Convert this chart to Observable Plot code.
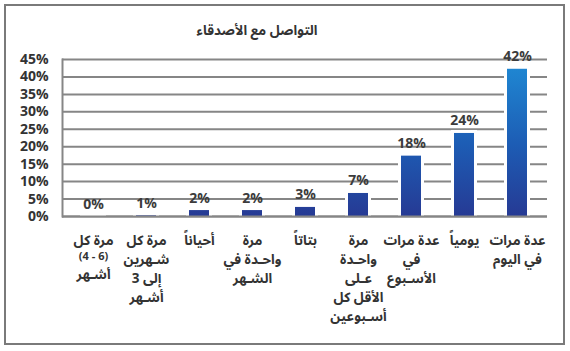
<!DOCTYPE html>
<html>
<head>
<meta charset="utf-8">
<script src="https://cdn.jsdelivr.net/npm/d3@7"></script>
<script src="https://cdn.jsdelivr.net/npm/@observablehq/plot@0.6"></script>
<style>
  html, body { margin: 0; padding: 0; background: #fff; }
  body { width: 570px; height: 351px; position: relative; overflow: hidden;
         font-family: "Open Sans", "Noto Sans Arabic", "Noto Naskh Arabic", "DejaVu Sans", sans-serif; }
  #title { position: absolute; left: 0; top: 19px; width: 514px; text-align: center;
           font-weight: bold; font-size: 13.5px; line-height: 22px; color: #333; }
  #frame { position: absolute; left: 4px; top: 4px; width: 557px; height: 337px;
           border: 2px solid #7a7a7a; pointer-events: none; }
  #chart { position: absolute; left: 0; top: 0; }
</style>
</head>
<body>
<div id="chart"></div>
<div id="title">التواصل مع الأصدقاء</div>
<div id="frame"></div>
<script>
const categories = [
  "مرة كل\n(4 - 6)\nأشـهر",
  "مرة كل\nشـهرين\nإلى 3\nأشـهر",
  "أحياناً",
  "مرة\nواحـدة في\nالشـهر",
  "بتاتاً",
  "مرة\nواحـدة\nعـلى\nالأقل كل\nأسـبوعين",
  "عدة مرات\nفي\nالأسـبوع",
  "يومياً",
  "عدة مرات\nفي اليوم"
];
const values = [0, 0.2, 1.7, 1.7, 2.6, 6.6, 17.3, 23.8, 42.2];
const valueLabels = ["0%", "1%", "2%", "2%", "3%", "7%", "18%", "24%", "42%"];
const yTicks = [0, 5, 10, 15, 20, 25, 30, 35, 40, 45];

const data = categories.map((c, i) => ({cat: c, value: values[i], label: valueLabels[i]}));

const font = '"Open Sans", "Noto Sans Arabic", "Noto Naskh Arabic", "DejaVu Sans", sans-serif';
const chart = Plot.plot({
  width: 570,
  height: 351,
  marginTop: 59,
  marginBottom: 135,
  marginLeft: 62,
  marginRight: 23,
  style: {background: "transparent", fontFamily: font, overflow: "visible"},
  x: {domain: categories, paddingInner: 0.63, paddingOuter: 0.315, label: null},
  y: {domain: [0, 45], label: null},
  marks: [
    Plot.gridY(yTicks, {stroke: "#868686", strokeOpacity: 1, strokeWidth: 2}),
    Plot.frame({anchor: "left", stroke: "#868686", strokeWidth: 2}),
    Plot.barY(data, {x: "cat", y: "value", fill: "white", insetLeft: -3, insetRight: -3, insetTop: -3}),
    Plot.barY(data, {x: "cat", y: "value", fill: "url(#barGrad)"}),
    Plot.ruleY([0], {stroke: "#868686", strokeWidth: 2}),
    Plot.text(data, {x: "cat", y: "value", text: "label", dy: -8, lineAnchor: "bottom",
      fontSize: 14, fontWeight: "bold", fill: "#3c3c3c"}),
    Plot.axisY({ticks: yTicks, tickFormat: d => d + "%", tickSize: 0, tickPadding: 14,
      fontSize: 14, fontWeight: "bold", color: "#333", label: null}),
    Plot.axisX({tickSize: 0, tickPadding: 15, lineHeight: 1.407, fontSize: 13.5,
      fontWeight: "bold", color: "#333", label: null})
  ]
});

const y = chart.scale("y");
const svg = d3.select(chart);
const grad = svg.insert("defs", ":first-child").append("linearGradient")
  .attr("id", "barGrad").attr("gradientUnits", "userSpaceOnUse")
  .attr("x1", 0).attr("x2", 0)
  .attr("y1", y.apply(45)).attr("y2", y.apply(0));
grad.append("stop").attr("offset", "0%").attr("stop-color", "#1f8bd5");
grad.append("stop").attr("offset", "55%").attr("stop-color", "#1d5cb4");
grad.append("stop").attr("offset", "100%").attr("stop-color", "#263a94");

svg.selectAll("tspan").filter(function() { return this.textContent.includes("4 - 6"); })
  .attr("font-size", 11);

document.getElementById("chart").appendChild(chart);
</script>
</body>
</html>
